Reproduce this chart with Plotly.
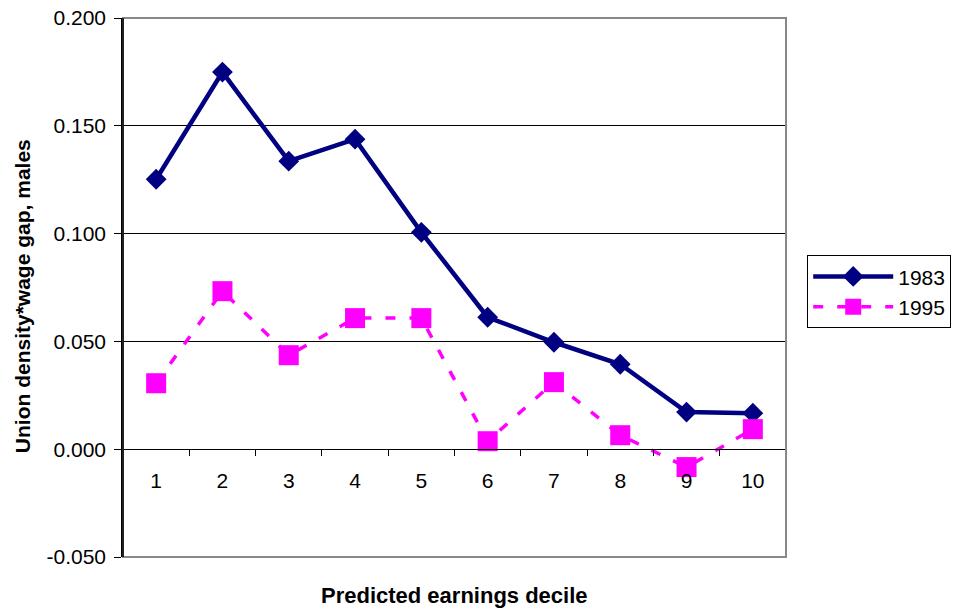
import plotly.graph_objects as go

deciles = ["1", "2", "3", "4", "5", "6", "7", "8", "9", "10"]
values_1983 = [0.1252, 0.1749, 0.1336, 0.1438, 0.1006, 0.0612, 0.0496, 0.0394, 0.0172, 0.0167]
values_1995 = [0.0306, 0.0733, 0.0436, 0.0608, 0.0608, 0.0037, 0.0311, 0.0065, -0.0083, 0.0093]
y_tickvals = [-0.05, 0.0, 0.05, 0.10, 0.15, 0.20]
y_ticktext = ["-0.050", "0.000", "0.050", "0.100", "0.150", "0.200"]

FONT = "Liberation Sans, Arial, sans-serif"

fig = go.Figure()
fig.add_trace(go.Scatter(
    x=deciles, y=values_1983, name="1983", mode="lines+markers",
    line=dict(color="#000080", width=4.5),
    marker=dict(symbol="diamond", size=16, color="#000080"),
))
fig.add_trace(go.Scatter(
    x=deciles, y=values_1995, name="1995", mode="lines+markers",
    line=dict(color="#FF00FF", width=3.5, dash="10px,14px"),
    marker=dict(symbol="square", size=20, color="#FF00FF"),
))

fig.update_layout(
    width=955, height=614,
    margin=dict(l=123, r=169, t=18, b=57, autoexpand=False),
    paper_bgcolor="white", plot_bgcolor="white",
    font=dict(family=FONT, size=21, color="black"),
    showlegend=True,
    legend=dict(
        x=1.032, y=0.492, xanchor="left", yanchor="middle",
        bordercolor="black", borderwidth=1, bgcolor="white",
        font=dict(family=FONT, size=21, color="black"),
        itemwidth=80, tracegroupgap=0,
    ),
    xaxis=dict(
        type="category", range=[-0.5, 9.5],
        anchor="free", position=0.2, automargin=False,
        showline=True, linecolor="black", linewidth=1,
        ticks="outside", ticklen=6, tickcolor="black", tickwidth=1,
        tickson="boundaries", showgrid=False, zeroline=False,
        tickfont=dict(family=FONT, size=21, color="black"),
        ticklabelstandoff=13,
    ),
    yaxis=dict(
        range=[-0.05, 0.2], automargin=False,
        tickvals=y_tickvals, ticktext=y_ticktext,
        showline=True, linecolor="black", linewidth=1.5,
        ticks="outside", ticklen=7, tickcolor="black",
        showgrid=True, gridcolor="black", gridwidth=1,
        zeroline=False,
        tickfont=dict(family=FONT, size=21, color="black"),
        ticklabelstandoff=4,
    ),
    annotations=[dict(
        text="<b>Predicted earnings decile</b>", x=0.5, y=-0.072,
        xref="paper", yref="paper", xanchor="center", yanchor="middle",
        showarrow=False, font=dict(family=FONT, size=22, color="black"),
    ), dict(
        text="<b>Union density*wage gap, males</b>", x=-0.1523, y=0.484,
        xref="paper", yref="paper", xanchor="center", yanchor="middle",
        textangle=-90,
        showarrow=False, font=dict(family=FONT, size=21, color="black"),
    )],
    shapes=[dict(
        type="rect", xref="paper", yref="paper", x0=0, x1=1, y0=0, y1=1,
        line=dict(color="#888888", width=2), layer="above",
    ), dict(
        type="line", xref="paper", yref="paper", x0=0, x1=0, y0=0, y1=1,
        line=dict(color="black", width=1.5), layer="above",
    )],
)

fig.write_html(
    "out.html",
    config={"displayModeBar": False},
    post_script="document.body.style.margin='0';document.body.style.overflow='hidden';",
)
